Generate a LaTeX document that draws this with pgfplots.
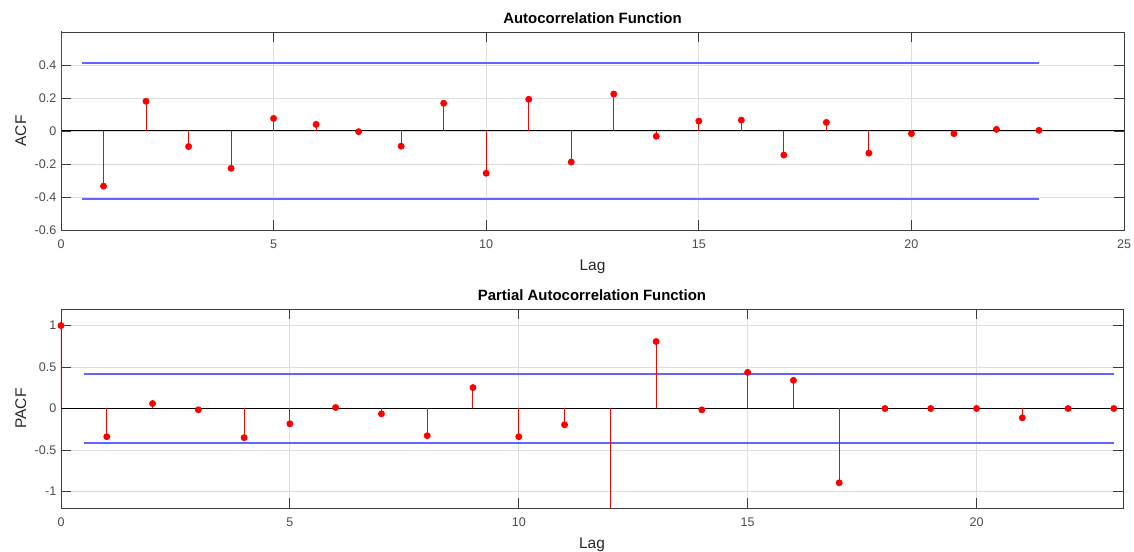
\documentclass[border=0pt]{standalone}
\usepackage{fontspec}
\setmainfont{Liberation Sans}
\usepackage{pgfplots}
\pgfplotsset{compat=1.18}

\definecolor{bnd}{RGB}{100,100,255}
\definecolor{axc}{RGB}{60,60,60}

\pgfplotsset{
  matlab/.style={
    scale only axis,
    axis line style={axc, line width=0.6pt},
    tick align=inside,
    major tick length=7.5pt,
    tick style={axc, line width=0.6pt},
    grid=major,
    grid style={black!13, line width=0.6pt},
    tick label style={black!70, font=\fontsize{9.4}{11}\selectfont},
    /pgf/number format/assume math mode=true,
    /pgf/number format/.cd, fixed, precision=1, /pgfplots/.cd,
    xticklabel style={yshift=-4pt},
    label style={font=\fontsize{11.6}{13}\selectfont, black!85},
    title style={font=\fontsize{11.2}{13}\selectfont\bfseries, yshift=-3.5pt},
  },
  stem/.style={red, line width=0.75pt, ycomb, mark=*, mark size=2.2pt,
    mark options={fill=red, draw=red}},
}

\begin{document}
\begin{tikzpicture}
% ACF
\begin{axis}[matlab,
  at={(0pt,208.5pt)},
  width=797.25pt, height=148.5pt,
  xmin=0, xmax=25, ymin=-0.6, ymax=0.6,
  xtick={0,5,...,25},
  ytick={-0.6,-0.4,-0.2,0,0.2,0.4},
  title={Autocorrelation Function},
  xlabel={Lag}, ylabel={ACF},
  xlabel style={at={(axis description cs:0.5,-0.207)}, anchor=base},
  ylabel style={at={(axis description cs:-0.0329,0.5)}, anchor=base},
]
\addplot[bnd, line width=1.4pt] coordinates {(0.5,0.41)(23,0.41)};
\addplot[bnd, line width=1.4pt] coordinates {(0.5,-0.41)(23,-0.41)};
\addplot[black, line width=0.75pt] coordinates {(0,0)(25,0)};
\addplot[stem] coordinates {
  (0,1)(1,-0.334)(2,0.180)(3,-0.094)(4,-0.226)(5,0.076)(6,0.040)(7,-0.004)
  (8,-0.092)(9,0.168)(10,-0.256)(11,0.192)(12,-0.188)(13,0.224)(14,-0.032)
  (15,0.060)(16,0.066)(17,-0.146)(18,0.052)(19,-0.134)(20,-0.016)(21,-0.016)
  (22,0.010)(23,0.004)
};
\end{axis}
% PACF
\begin{axis}[matlab,
  at={(0pt,0pt)},
  width=796.5pt, height=149.25pt,
  xmin=0, xmax=23.2, ymin=-1.2, ymax=1.2,
  xtick={0,5,...,20},
  ytick={-1,-0.5,0,0.5,1},
  title={Partial Autocorrelation Function},
  xlabel={Lag}, ylabel={PACF},
  xlabel style={at={(axis description cs:0.5,-0.204)}, anchor=base},
  ylabel style={at={(axis description cs:-0.0329,0.5)}, anchor=base},
]
\addplot[bnd, line width=1.4pt] coordinates {(0.5,0.417)(23,0.417)};
\addplot[bnd, line width=1.4pt] coordinates {(0.5,-0.417)(23,-0.417)};
\addplot[black, line width=0.75pt] coordinates {(0,0)(23.2,0)};
\addplot[stem] coordinates {
  (0,1.0)(1,-0.340)(2,0.060)(3,-0.016)(4,-0.352)(5,-0.184)(6,0.012)(7,-0.064)
  (8,-0.328)(9,0.252)(10,-0.340)(11,-0.196)(12,-1.50)(13,0.808)(14,-0.016)
  (15,0.436)(16,0.340)(17,-0.896)(18,0)(19,0)(20,0)(21,-0.112)(22,0)(23,0)
};
\end{axis}
\pgfresetboundingbox
\path[use as bounding box] (-45.75pt,-33pt) rectangle (804.75pt,381pt);
\end{tikzpicture}
\end{document}
